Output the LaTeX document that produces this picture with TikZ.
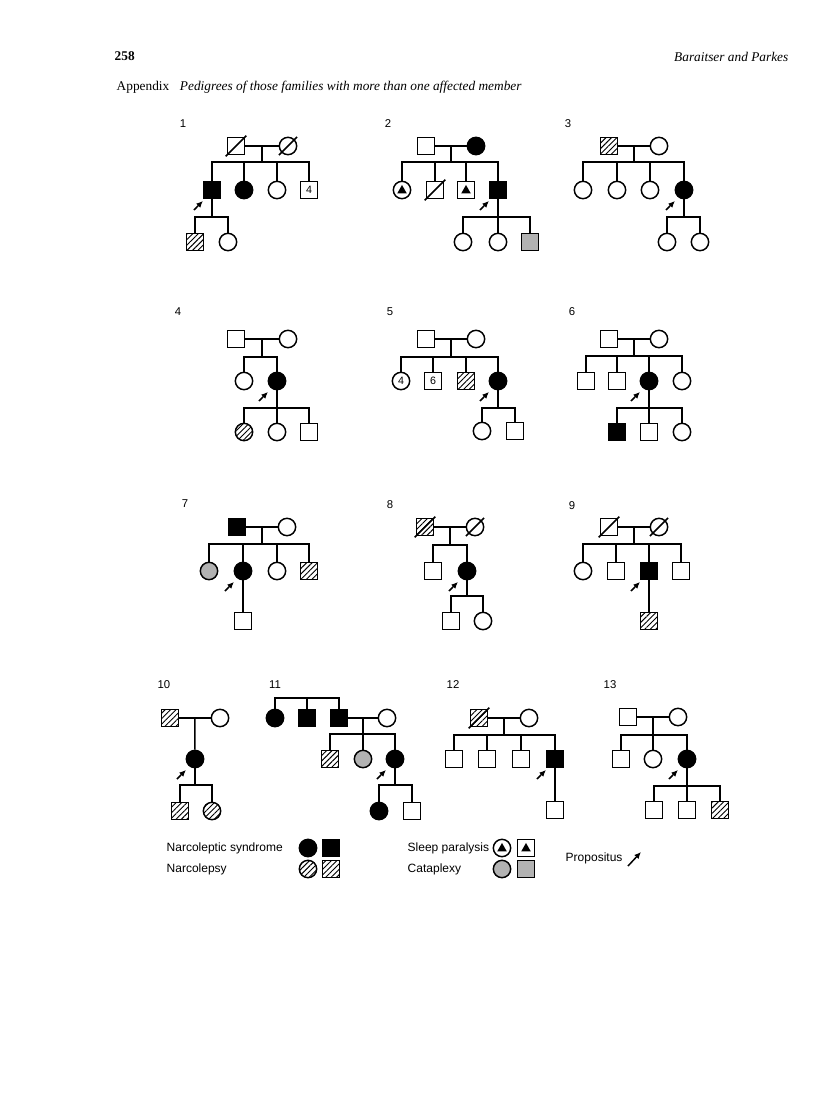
\documentclass[tikz,border=0pt]{standalone}
\usepackage{fontspec}
\setmainfont{Liberation Serif}
\setsansfont{Liberation Sans}
\usetikzlibrary{arrows.meta,patterns.meta}

% propositus arrow, pointing at the lower left of a symbol
\newcommand{\proband}[1]{\draw[prop] ([shift={(-13.5pt,-15pt)}]#1.center) -- ([shift={(-6.8pt,-8.2pt)}]#1.center);}

\begin{document}
\begin{tikzpicture}[x=0.75pt,y=-0.75pt,
  line width=1.1pt,
  every node/.style={font=\sffamily\fontsize{8}{9}\selectfont},
  male/.style={draw, rectangle, minimum size=12.6pt, inner sep=0pt},
  female/.style={draw, circle, minimum size=13pt, inner sep=0pt},
  aff/.style={fill=black},
  hatch/.style={pattern={Lines[angle=45,distance=2.9pt,line width=0.7pt]}},
  stip/.style={fill=black!30},
  slash/.style={shorten <=-#1, shorten >=-#1},
  slash/.default=1.2pt,
  tri/.style={path picture={\fill ([yshift=3.8pt]path picture bounding box.center) -- ++(-3.6pt,-6.4pt) -- ++(7.2pt,0pt) -- cycle;}},
  prop/.style={-{Latex[length=5pt,width=4.5pt]}, line width=1.1pt},
  fam/.style={font=\sffamily\fontsize{8.5}{10}\selectfont, inner sep=0pt},
  txt/.style={inner sep=0pt, anchor=west}
]
\fill[white] (0,0) rectangle (816,1110);
\useasboundingbox (0,0) rectangle (816,1110);

% header
\node[txt, font=\rmfamily\bfseries\fontsize{10}{12}\selectfont] (page) at (114,56) {258};
\node[txt, anchor=east, font=\rmfamily\itshape\fontsize{10}{12}\selectfont] (auth) at (789,57) {Baraitser and Parkes};
\node[txt, font=\rmfamily\fontsize{10}{12}\selectfont] (app) at (116,87) {Appendix\hspace{8pt}\textit{Pedigrees of those families with more than one affected member}};

% family 1
\node[fam] (n1) at (183,124) {1};
\node[male] (f1) at (236,146) {};
\node[female] (m1) at (288,146) {};
\draw[slash] (f1.south west) -- (f1.north east);
\draw[slash=2.5pt] (m1.south west) -- (m1.north east);
\draw (f1) -- coordinate (d1) (m1);
\coordinate (s1) at (d1 |- 0,162);
\node[male, aff] (k1a) at (212,190) {};
\node[female, aff] (k1b) at (244,190) {};
\node[female] (k1c) at (277,190) {};
\node[male] (k1d) at (309,190) {4};
\draw (d1) -- (s1);
\foreach \k in {k1a,k1b,k1c,k1d} \draw (s1) -| (\k);
\coordinate (t1) at (k1a |- 0,217);
\node[male, hatch] (g1a) at (195,242) {};
\node[female] (g1b) at (228,242) {};
\draw (k1a) -- (t1);
\foreach \k in {g1a,g1b} \draw (t1) -| (\k);
\proband{k1a}

% family 2
\node[fam] (n2) at (388,124) {2};
\node[male] (f2) at (426,146) {};
\node[female, aff] (m2) at (476,146) {};
\draw (f2) -- coordinate (d2) (m2);
\coordinate (s2) at (d2 |- 0,162);
\node[female, tri] (k2a) at (402,190) {};
\node[male] (k2b) at (435,190) {};
\draw[slash] (k2b.south west) -- (k2b.north east);
\node[male, tri] (k2c) at (466,190) {};
\node[male, aff] (k2d) at (498,190) {};
\draw (d2) -- (s2);
\foreach \k in {k2a,k2b,k2c,k2d} \draw (s2) -| (\k);
\coordinate (t2) at (k2d |- 0,217);
\node[female] (g2a) at (463,242) {};
\node[female] (g2b) at (498,242) {};
\node[male, stip] (g2c) at (530,242) {};
\draw (k2d) -- (t2);
\foreach \k in {g2a,g2b,g2c} \draw (t2) -| (\k);
\proband{k2d}

% family 3
\node[fam] (n3) at (568,124) {3};
\node[male, hatch] (f3) at (609,146) {};
\node[female] (m3) at (659,146) {};
\draw (f3) -- coordinate (d3) (m3);
\coordinate (s3) at (d3 |- 0,162);
\node[female] (k3a) at (583,190) {};
\node[female] (k3b) at (617,190) {};
\node[female] (k3c) at (650,190) {};
\node[female, aff] (k3d) at (684,190) {};
\draw (d3) -- (s3);
\foreach \k in {k3a,k3b,k3c,k3d} \draw (s3) -| (\k);
\coordinate (t3) at (k3d |- 0,217);
\node[female] (g3a) at (667,242) {};
\node[female] (g3b) at (700,242) {};
\draw (k3d) -- (t3);
\foreach \k in {g3a,g3b} \draw (t3) -| (\k);
\proband{k3d}

% family 4
\node[fam] (n4) at (178,312) {4};
\node[male] (f4) at (236,339) {};
\node[female] (m4) at (288,339) {};
\draw (f4) -- coordinate (d4) (m4);
\coordinate (s4) at (d4 |- 0,357);
\node[female] (k4a) at (244,381) {};
\node[female, aff] (k4b) at (277,381) {};
\draw (d4) -- (s4);
\foreach \k in {k4a,k4b} \draw (s4) -| (\k);
\coordinate (t4) at (k4b |- 0,408);
\node[female, hatch] (g4a) at (244,432) {};
\node[female] (g4b) at (277,432) {};
\node[male] (g4c) at (309,432) {};
\draw (k4b) -- (t4);
\foreach \k in {g4a,g4b,g4c} \draw (t4) -| (\k);
\proband{k4b}

% family 5
\node[fam] (n5) at (390,312) {5};
\node[male] (f5) at (426,339) {};
\node[female] (m5) at (476,339) {};
\draw (f5) -- coordinate (d5) (m5);
\coordinate (s5) at (d5 |- 0,357);
\node[female] (k5a) at (401,381) {4};
\node[male] (k5b) at (433,381) {6};
\node[male, hatch] (k5c) at (466,381) {};
\node[female, aff] (k5d) at (498,381) {};
\draw (d5) -- (s5);
\foreach \k in {k5a,k5b,k5c,k5d} \draw (s5) -| (\k);
\coordinate (t5) at (k5d |- 0,408);
\node[female] (g5a) at (482,431) {};
\node[male] (g5b) at (515,431) {};
\draw (k5d) -- (t5);
\foreach \k in {g5a,g5b} \draw (t5) -| (\k);
\proband{k5d}

% family 6
\node[fam] (n6) at (572,312) {6};
\node[male] (f6) at (609,339) {};
\node[female] (m6) at (659,339) {};
\draw (f6) -- coordinate (d6) (m6);
\coordinate (s6) at (d6 |- 0,356);
\node[male] (k6a) at (586,381) {};
\node[male] (k6b) at (617,381) {};
\node[female, aff] (k6c) at (649,381) {};
\node[female] (k6d) at (682,381) {};
\draw (d6) -- (s6);
\foreach \k in {k6a,k6b,k6c,k6d} \draw (s6) -| (\k);
\coordinate (t6) at (k6c |- 0,408);
\node[male, aff] (g6a) at (617,432) {};
\node[male] (g6b) at (649,432) {};
\node[female] (g6c) at (682,432) {};
\draw (k6c) -- (t6);
\foreach \k in {g6a,g6b,g6c} \draw (t6) -| (\k);
\proband{k6c}

% family 7
\node[fam] (n7) at (185,504) {7};
\node[male, aff] (f7) at (237,527) {};
\node[female] (m7) at (287,527) {};
\draw (f7) -- coordinate (d7) (m7);
\coordinate (s7) at (d7 |- 0,544);
\node[female, stip] (k7a) at (209,571) {};
\node[female, aff] (k7b) at (243,571) {};
\node[female] (k7c) at (277,571) {};
\node[male, hatch] (k7d) at (309,571) {};
\draw (d7) -- (s7);
\foreach \k in {k7a,k7b,k7c,k7d} \draw (s7) -| (\k);
\node[male] (g7a) at (243,621) {};
\draw (k7b) -- (g7a);
\proband{k7b}

% family 8
\node[fam] (n8) at (390,505) {8};
\node[male, hatch] (f8) at (425,527) {};
\node[female] (m8) at (475,527) {};
\draw[slash] (f8.south west) -- (f8.north east);
\draw[slash=2.5pt] (m8.south west) -- (m8.north east);
\draw (f8) -- coordinate (d8) (m8);
\coordinate (s8) at (d8 |- 0,545);
\node[male] (k8a) at (433,571) {};
\node[female, aff] (k8b) at (467,571) {};
\draw (d8) -- (s8);
\foreach \k in {k8a,k8b} \draw (s8) -| (\k);
\coordinate (t8) at (k8b |- 0,596);
\node[male] (g8a) at (451,621) {};
\node[female] (g8b) at (483,621) {};
\draw (k8b) -- (t8);
\foreach \k in {g8a,g8b} \draw (t8) -| (\k);
\proband{k8b}

% family 9
\node[fam] (n9) at (572,506) {9};
\node[male] (f9) at (609,527) {};
\node[female] (m9) at (659,527) {};
\draw[slash] (f9.south west) -- (f9.north east);
\draw[slash=2.5pt] (m9.south west) -- (m9.north east);
\draw (f9) -- coordinate (d9) (m9);
\coordinate (s9) at (d9 |- 0,544);
\node[female] (k9a) at (583,571) {};
\node[male] (k9b) at (616,571) {};
\node[male, aff] (k9c) at (649,571) {};
\node[male] (k9d) at (681,571) {};
\draw (d9) -- (s9);
\foreach \k in {k9a,k9b,k9c,k9d} \draw (s9) -| (\k);
\node[male, hatch] (g9a) at (649,621) {};
\draw (k9c) -- (g9a);
\proband{k9c}

% family 10
\node[fam] (n10) at (164,685) {10};
\node[male, hatch] (f10) at (170,718) {};
\node[female] (m10) at (220,718) {};
\draw (f10) -- coordinate (d10) (m10);
\node[female, aff] (k10a) at (195,759) {};
\draw (d10) -- (k10a);
\coordinate (t10) at (k10a |- 0,785);
\node[male, hatch] (g10a) at (180,811) {};
\node[female, hatch] (g10b) at (212,811) {};
\draw (k10a) -- (t10);
\foreach \k in {g10a,g10b} \draw (t10) -| (\k);
\proband{k10a}

% family 11
\node[fam] (n11) at (275,685) {11};
\coordinate (s11) at (307,698);
\node[female, aff] (k11a) at (275,718) {};
\node[male, aff] (k11b) at (307,718) {};
\node[male, aff] (k11c) at (339,718) {};
\foreach \k in {k11a,k11b,k11c} \draw (s11) -| (\k);
\node[female] (w11) at (387,718) {};
\draw (k11c) -- coordinate (d11) (w11);
\coordinate (u11) at (d11 |- 0,734);
\node[male, hatch] (h11a) at (330,759) {};
\node[female, stip] (h11b) at (363,759) {};
\node[female, aff] (h11c) at (395,759) {};
\draw (d11) -- (u11);
\foreach \k in {h11a,h11b,h11c} \draw (u11) -| (\k);
\coordinate (t11) at (h11c |- 0,785);
\node[female, aff] (g11a) at (379,811) {};
\node[male] (g11b) at (412,811) {};
\draw (h11c) -- (t11);
\foreach \k in {g11a,g11b} \draw (t11) -| (\k);
\proband{h11c}

% family 12
\node[fam] (n12) at (453,685) {12};
\node[male, hatch] (f12) at (479,718) {};
\node[female] (m12) at (529,718) {};
\draw[slash] (f12.south west) -- (f12.north east);
\draw (f12) -- coordinate (d12) (m12);
\coordinate (s12) at (d12 |- 0,735);
\node[male] (k12a) at (454,759) {};
\node[male] (k12b) at (487,759) {};
\node[male] (k12c) at (521,759) {};
\node[male, aff] (k12d) at (555,759) {};
\draw (d12) -- (s12);
\foreach \k in {k12a,k12b,k12c,k12d} \draw (s12) -| (\k);
\node[male] (g12a) at (555,810) {};
\draw (k12d) -- (g12a);
\proband{k12d}

% family 13
\node[fam] (n13) at (610,685) {13};
\node[male] (f13) at (628,717) {};
\node[female] (m13) at (678,717) {};
\draw (f13) -- coordinate (d13) (m13);
\coordinate (s13) at (d13 |- 0,735);
\node[male] (k13a) at (621,759) {};
\node[female] (k13b) at (653,759) {};
\node[female, aff] (k13c) at (687,759) {};
\draw (d13) -- (s13);
\foreach \k in {k13a,k13b,k13c} \draw (s13) -| (\k);
\coordinate (t13) at (k13c |- 0,786);
\node[male] (g13a) at (654,810) {};
\node[male] (g13b) at (687,810) {};
\node[male, hatch] (g13c) at (720,810) {};
\draw (k13c) -- (t13);
\foreach \k in {g13a,g13b,g13c} \draw (t13) -| (\k);
\proband{k13c}

% key
\node[txt, font=\sffamily\fontsize{9}{10}\selectfont] (key1) at (166,848) {Narcoleptic syndrome};
\node[female, aff] (ks1) at (308,848) {};
\node[male, aff] (ks2) at (331,848) {};
\node[txt, font=\sffamily\fontsize{9}{10}\selectfont] (key2) at (166,869) {Narcolepsy};
\node[female, hatch] (ks3) at (308,869) {};
\node[male, hatch] (ks4) at (331,869) {};
\node[txt, font=\sffamily\fontsize{9}{10}\selectfont] (key3) at (407,848) {Sleep paralysis};
\node[female, tri] (ks5) at (502,848) {};
\node[male, tri] (ks6) at (526,848) {};
\node[txt, font=\sffamily\fontsize{9}{10}\selectfont] (key4) at (407,869) {Cataplexy};
\node[female, stip] (ks7) at (502,869) {};
\node[male, stip] (ks8) at (526,869) {};
\node[txt, font=\sffamily\fontsize{9}{10}\selectfont] (key5) at (565,858) {Propositus};
\coordinate (ka) at (628,866);
\coordinate (kb) at (641,852);
\draw[prop] (ka) -- (kb);
\end{tikzpicture}
\end{document}
